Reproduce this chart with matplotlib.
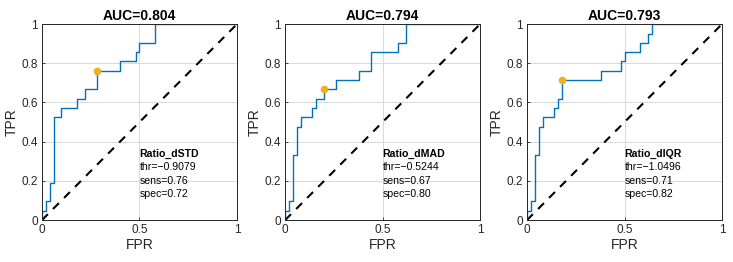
import matplotlib
matplotlib.use('Agg')
import matplotlib.pyplot as plt

plt.rcParams['font.family'] = ['Liberation Sans', 'DejaVu Sans']

# ROC curves: FPR breakpoints and TPR level reached at each breakpoint (step curve)
fpr_std = [0, 0, 0.02, 0.04, 0.06, 0.10, 0.18, 0.22, 0.28, 0.40, 0.48, 0.50, 0.58, 1.0]
tpr_std = [0, 0.048, 0.095, 0.190, 0.524, 0.571, 0.619, 0.667, 0.762, 0.810, 0.857, 0.905, 1.0, 1.0]

fpr_mad = [0, 0, 0.02, 0.04, 0.06, 0.08, 0.14, 0.16, 0.20, 0.26, 0.38, 0.44, 0.58, 0.62, 1.0]
tpr_mad = [0, 0.048, 0.095, 0.333, 0.476, 0.524, 0.571, 0.619, 0.667, 0.714, 0.762, 0.857, 0.905, 1.0, 1.0]

fpr_iqr = [0, 0, 0.02, 0.04, 0.06, 0.08, 0.14, 0.16, 0.18, 0.38, 0.48, 0.50, 0.58, 0.62, 0.64, 1.0]
tpr_iqr = [0, 0.048, 0.095, 0.333, 0.476, 0.524, 0.571, 0.619, 0.714, 0.762, 0.810, 0.857, 0.905, 0.952, 1.0, 1.0]

names = ["Ratio_dSTD", "Ratio_dMAD", "Ratio_dIQR"]
aucs = [0.804, 0.794, 0.793]
thrs = [-0.9079, -0.5244, -1.0496]
sens = [0.76, 0.67, 0.71]
spec = [0.72, 0.80, 0.82]
op_fpr = [0.28, 0.20, 0.18]
op_tpr = [0.762, 0.667, 0.714]

curves = [(fpr_std, tpr_std), (fpr_mad, tpr_mad), (fpr_iqr, tpr_iqr)]
lefts = [0.0573, 0.389, 0.719]

fig = plt.figure(figsize=(7.33, 2.62), dpi=100)

for i in range(3):
    ax = fig.add_axes([lefts[i], 0.160, 0.266, 0.748])
    fpr, tpr = curves[i]
    ax.plot([0, 1], [0, 1], color="black", linestyle="--", linewidth=1.5, dashes=(4, 3.5))
    ax.plot(fpr, tpr, drawstyle="steps-post", color="#0072BD", linewidth=1.0)
    ax.plot(op_fpr[i], op_tpr[i], "o", color="#EDB120", markersize=4.5)
    ax.set_xlim(0, 1)
    ax.set_ylim(0, 1)
    ax.set_xticks([0, 0.5, 1])
    ax.set_xticklabels(["0", "0.5", "1"])
    ax.set_yticks([0, 0.2, 0.4, 0.6, 0.8, 1])
    ax.set_yticklabels(["0", "0.2", "0.4", "0.6", "0.8", "1"])
    ax.grid(True, color="#d9d9d9", linewidth=0.7)
    ax.set_axisbelow(True)
    ax.tick_params(direction="in", length=2.5, width=0.6, labelsize=8.5, colors="#262626", pad=3)
    for s in ax.spines.values():
        s.set_linewidth(0.7)
        s.set_color("#262626")
    ax.set_xlabel("FPR", fontsize=10, color="#262626", labelpad=1)
    ax.set_ylabel("TPR", fontsize=10, color="#262626", labelpad=2)
    ax.set_title("AUC=%.3f" % aucs[i], fontsize=10, fontweight="bold", pad=3)
    ax.text(0.50, 0.337, names[i], transform=ax.transAxes, fontsize=7.6,
            fontweight="bold", va="center", ha="left")
    lines = ["thr=\u2212%.4f" % abs(thrs[i]), "sens=%.2f" % sens[i], "spec=%.2f" % spec[i]]
    for j, t in enumerate(lines):
        ax.text(0.50, 0.337 - 0.068 * (j + 1), t, transform=ax.transAxes,
                fontsize=7.6, va="center", ha="left")

plt.savefig("out.png", dpi=100)
